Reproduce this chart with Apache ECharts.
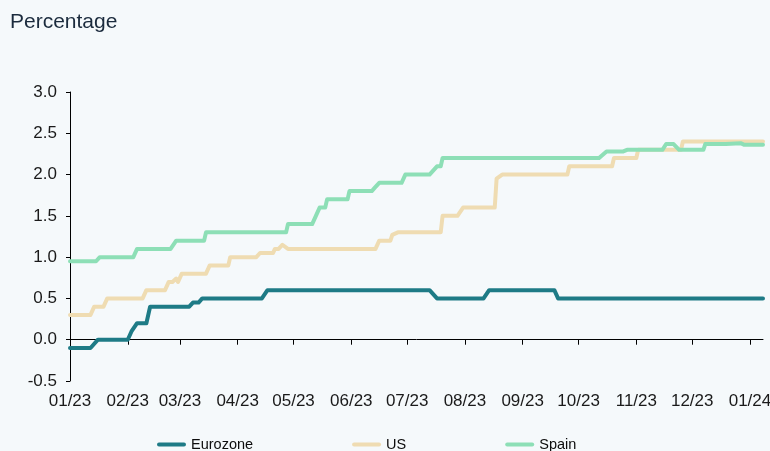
<!DOCTYPE html>
<html>
<head>
<meta charset="utf-8">
<script src="https://cdn.jsdelivr.net/npm/echarts@6/dist/echarts.min.js"></script>
<style>
  html, body { margin: 0; padding: 0; background: #f5f9fb; }
  #chart { width: 770px; height: 451px; }
</style>
</head>
<body>
<div id="chart"></div>
<script>
// Policy-rate style step series, vertices of each polyline (date, percentage)
const eurozoneDates = ['2023-01-01','2023-01-12','2023-01-16','2023-02-01','2023-02-03','2023-02-06','2023-02-11','2023-02-13','2023-03-06','2023-03-08','2023-03-11','2023-03-13','2023-04-14','2023-04-17','2023-07-13','2023-07-17','2023-08-11','2023-08-14','2023-09-18','2023-09-20','2024-01-08'];
const eurozoneValues = [-0.1,-0.1,0.0,0.0,0.1,0.2,0.2,0.4,0.4,0.45,0.45,0.5,0.5,0.6,0.6,0.5,0.5,0.6,0.6,0.5,0.5];

const usDates = ['2023-01-01','2023-01-12','2023-01-14','2023-01-19','2023-01-21','2023-02-09','2023-02-11','2023-02-21','2023-02-23','2023-02-25','2023-02-27','2023-02-28','2023-03-02','2023-03-15','2023-03-17','2023-03-27','2023-03-28','2023-04-11','2023-04-13','2023-04-20','2023-04-21','2023-04-23','2023-04-25','2023-04-28','2023-06-14','2023-06-16','2023-06-22','2023-06-23','2023-06-26','2023-07-19','2023-07-20','2023-07-28','2023-07-31','2023-08-17','2023-08-18','2023-08-21','2023-09-25','2023-09-26','2023-10-19','2023-10-20','2023-11-01','2023-11-02','2023-11-25','2023-11-26','2024-01-08'];
const usValues = [0.3,0.3,0.4,0.4,0.5,0.5,0.6,0.6,0.7,0.7,0.74,0.7,0.8,0.8,0.9,0.9,1.0,1.0,1.05,1.05,1.1,1.1,1.15,1.1,1.1,1.2,1.2,1.27,1.3,1.3,1.5,1.5,1.6,1.6,1.95,2.0,2.0,2.1,2.1,2.2,2.2,2.3,2.3,2.4,2.4];

const spainDates = ['2023-01-01','2023-01-15','2023-01-17','2023-02-04','2023-02-06','2023-02-24','2023-02-27','2023-03-14','2023-03-15','2023-04-27','2023-04-28','2023-05-11','2023-05-13','2023-05-15','2023-05-18','2023-05-19','2023-05-30','2023-05-31','2023-06-12','2023-06-14','2023-06-16','2023-06-28','2023-06-30','2023-07-13','2023-07-17','2023-07-19','2023-07-20','2023-10-12','2023-10-16','2023-10-25','2023-10-27','2023-11-15','2023-11-17','2023-11-21','2023-11-24','2023-12-07','2023-12-08','2023-12-19','2023-12-20','2023-12-27','2023-12-29','2024-01-08'];
const spainValues = [0.95,0.95,1.0,1.0,1.1,1.1,1.2,1.2,1.3,1.3,1.4,1.4,1.5,1.6,1.6,1.7,1.7,1.8,1.8,1.85,1.9,1.9,2.0,2.0,2.1,2.1,2.2,2.2,2.28,2.28,2.3,2.3,2.37,2.37,2.3,2.3,2.37,2.37,2.38,2.38,2.36,2.36];

const seriesNames = ['Eurozone', 'US', 'Spain'];
const seriesColors = ['#1e7b86', '#efdcb2', '#8ddfb6'];
const axisStart = '2023-01-01';
const axisEnd = '2024-01-08';

function pairs(dates, values) {
  return dates.map((d, i) => [d, values[i]]);
}

const chart = echarts.init(document.getElementById('chart'), null, { renderer: 'canvas' });
const font = 'Liberation Sans, Arial, sans-serif';
const DAY = 24 * 3600 * 1000;

const seriesData = [
  pairs(eurozoneDates, eurozoneValues),
  pairs(usDates, usValues),
  pairs(spainDates, spainValues)
];

chart.setOption({
  backgroundColor: '#f5f9fb',
  animation: false,
  title: {
    text: 'Percentage',
    left: 10,
    top: 12,
    padding: 0,
    textStyle: { fontFamily: font, fontSize: 21, fontWeight: 'normal', color: '#1b2b3d' }
  },
  legend: {
    top: 437,
    left: 157,
    padding: 0,
    itemGap: 99,
    itemWidth: 29,
    itemHeight: 4,
    icon: 'path://M2,0 L27,0 A2,2 0 0 1 27,4 L2,4 A2,2 0 0 1 2,0 Z',
    textStyle: { fontFamily: font, fontSize: 14.5, color: '#0d0d0d' },
    data: seriesNames
  },
  grid: { left: 70, right: 7, top: 92, bottom: 70, containLabel: false, outerBoundsMode: 'none' },
  xAxis: {
    type: 'time',
    min: axisStart,
    max: axisEnd,
    splitNumber: 12,
    minInterval: 28 * DAY,
    maxInterval: 31 * DAY,
    axisLine: { onZero: true, lineStyle: { color: '#000000', width: 1 } },
    axisTick: { show: true, length: 5, lineStyle: { color: '#000000', width: 1 } },
    splitLine: { show: false },
    axisLabel: {
      margin: 12,
      fontFamily: font,
      fontSize: 17,
      color: '#1a1a1a',
      showMaxLabel: false,
      formatter: function (value) {
        const d = new Date(value);
        const mm = String(d.getMonth() + 1).padStart(2, '0');
        const yy = String(d.getFullYear() % 100).padStart(2, '0');
        return mm + '/' + yy;
      }
    }
  },
  yAxis: {
    type: 'value',
    min: -0.5,
    max: 3,
    interval: 0.5,
    axisLine: { show: true, lineStyle: { color: '#000000', width: 1 } },
    axisTick: { show: true, length: 4, lineStyle: { color: '#000000', width: 1 } },
    splitLine: { show: false },
    axisLabel: {
      margin: 13,
      fontFamily: font,
      fontSize: 17,
      color: '#1a1a1a',
      formatter: v => v.toFixed(1)
    }
  },
  series: seriesNames.map((name, i) => ({
    name: name,
    type: 'line',
    data: seriesData[i],
    showSymbol: false,
    symbol: 'none',
    color: seriesColors[i],
    lineStyle: { width: 4, color: seriesColors[i], join: 'round', cap: 'round' },
    z: 2 + i
  }))
});
</script>
</body>
</html>
